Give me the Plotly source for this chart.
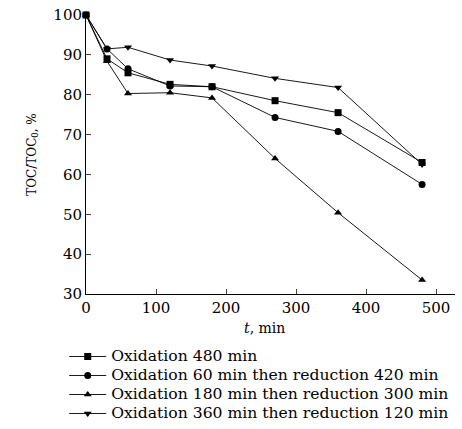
import plotly.graph_objects as go

# Sampling times, min
t_min = [0, 30, 60, 120, 180, 270, 360, 480]

# TOC/TOC0, % for each treatment regime
ox_480 = [100, 89.0, 85.5, 82.6, 82.0, 78.5, 75.5, 63.0]
ox60_red420 = [100, 91.5, 86.5, 82.2, 82.0, 74.3, 70.8, 57.5]
ox180_red300 = [100, 88.4, 80.3, 80.5, 79.2, 64.0, 50.4, 33.5]
ox360_red120 = [100, 91.5, 91.9, 88.7, 87.2, 84.1, 81.8, 62.5]

series_names = [
    "Oxidation 480 min",
    "Oxidation 60 min then reduction 420 min",
    "Oxidation 180 min then reduction 300 min",
    "Oxidation 360 min then reduction 120 min",
]
series_values = [ox_480, ox60_red420, ox180_red300, ox360_red120]
series_symbols = ["square", "circle", "triangle-up", "triangle-down"]

x_ticks = [0, 100, 200, 300, 400, 500]
y_ticks = [30, 40, 50, 60, 70, 80, 90, 100]

FONT = "DejaVu Serif"
LEGEND_TEXT_PX = 15.6

fig = go.Figure()
for name, vals, sym in zip(series_names, series_values, series_symbols):
    fig.add_trace(go.Scatter(
        x=t_min, y=vals,
        name=f'<span style="font-size:{LEGEND_TEXT_PX}px">{name}</span>',
        mode="lines+markers",
        line=dict(color="black", width=0.9),
        marker=dict(symbol=sym, size=7, color="black"),
        cliponaxis=False,
    ))

fig.update_layout(
    width=462, height=429,
    margin=dict(l=86, r=7, t=15, b=135, autoexpand=False),
    plot_bgcolor="white", paper_bgcolor="white",
    font=dict(family=FONT, size=14, color="black"),
    showlegend=True,
    legend=dict(
        x=-0.059, y=-0.172, xanchor="left", yanchor="top",
        font=dict(family=FONT, size=11, color="black"),
        tracegroupgap=0, itemwidth=37,
        bgcolor="rgba(0,0,0,0)",
    ),
)
fig.update_xaxes(
    range=[0, 527], tickvals=x_ticks, ticks="inside", ticklen=5,
    showline=True, linecolor="black", linewidth=1, showgrid=False,
    zeroline=False, tickfont=dict(size=15),
)
fig.update_yaxes(
    range=[30, 100], tickvals=y_ticks, ticks="inside", ticklen=5,
    showline=True, linecolor="black", linewidth=1, showgrid=False,
    zeroline=False, tickfont=dict(size=15),
    title=dict(text="TOC/TOC<sub>0</sub>, %", font=dict(size=12), standoff=14),
)
fig.add_annotation(
    text="<i>t</i>, min", xref="x", yref="paper", x=255, y=0,
    yanchor="middle", yshift=-34, showarrow=False, font=dict(size=14),
)

fig.write_html("out.html")
